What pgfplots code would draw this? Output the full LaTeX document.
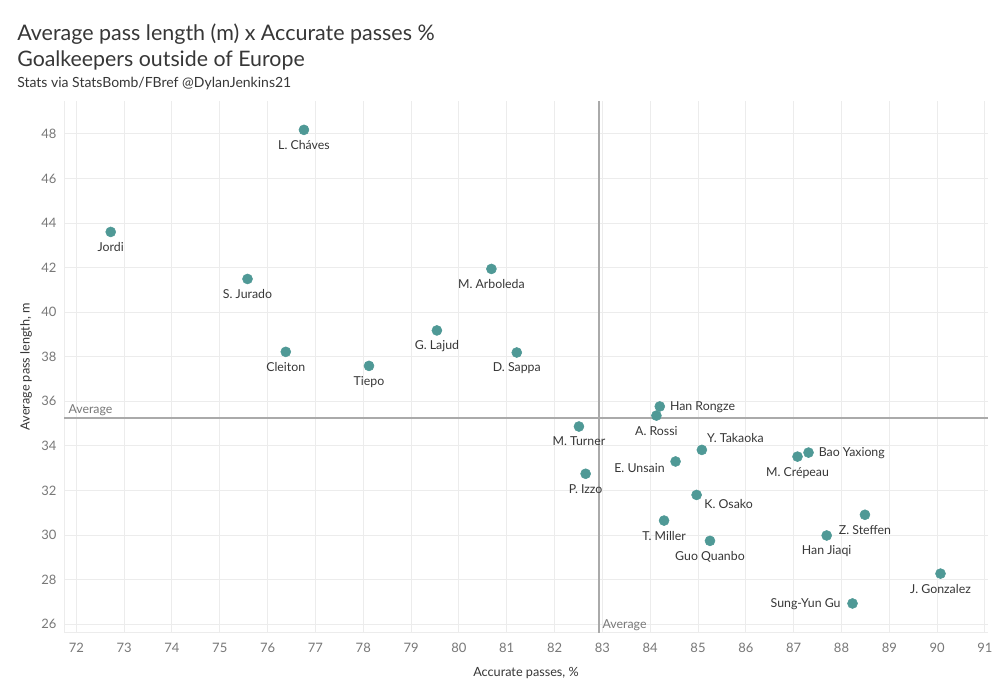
\documentclass[border=0pt]{standalone}
\usepackage{fontspec}
\setmainfont{Lato}
\usepackage{pgfplots}
\usepackage{pgfplotstable}
\pgfplotsset{compat=1.18}
\definecolor{dot}{RGB}{79,153,150}
\definecolor{gridc}{RGB}{236,236,236}
\definecolor{avg}{RGB}{170,170,170}
\definecolor{txt}{RGB}{55,55,55}
\definecolor{tickc}{RGB}{120,120,120}

% labels below the dot
\pgfplotstableread{
x y label
76.76 48.18 {L. Cháves}
72.72 43.60 {Jordi}
75.58 41.49 {S. Jurado}
80.68 41.94 {M. Arboleda}
79.54 39.18 {G. Lajud}
76.38 38.22 {Cleiton}
78.12 37.59 {Tiepo}
81.21 38.19 {D. Sappa}
84.13 35.36 {A. Rossi}
82.51 34.87 {M. Turner}
82.65 32.75 {P. Izzo}
87.08 33.52 {M. Crépeau}
84.29 30.65 {T. Miller}
85.25 29.74 {Guo Quanbo}
88.49 30.91 {Z. Steffen}
87.69 29.98 {Han Jiaqi}
90.07 28.27 {J. Gonzalez}
}\gkbelow
% labels to the right, level
\pgfplotstableread{
x y label
84.20 35.77 {Han Rongze}
87.31 33.70 {Bao Yaxiong}
}\gkright
\pgfplotstableread{
x y label
85.08 33.82 {Y. Takaoka}
}\gkupright
\pgfplotstableread{
x y label
84.97 31.80 {K. Osako}
}\gkdownright
\pgfplotstableread{
x y label
84.53 33.30 {E. Unsain}
}\gkdownleft
\pgfplotstableread{
x y label
88.23 26.93 {Sung-Yun Gu}
}\gkleft

\pgfplotsset{
  gk/.style={only marks, mark=*, mark size=3.75pt,
    mark options={fill=dot, draw=dot},
    point meta=explicit symbolic, nodes near coords},
  lab/.style={every node near coord/.append style={inner sep=0pt, text=txt, font=\fontsize{9.25}{11}\selectfont, #1}},
}

\begin{document}
\begin{tikzpicture}
\path[use as bounding box, fill=white] (0,0) rectangle (750pt,525pt);
\node[anchor=base west, text=txt, font=\fontsize{16.1}{19}\selectfont, inner sep=0pt] at (12.75pt,494.5pt) {Average pass length (m) x Accurate passes \%};
\node[anchor=base west, text=txt, font=\fontsize{16}{19}\selectfont, inner sep=0pt] at (12.75pt,475pt) {Goalkeepers outside of Europe};
\node[anchor=base west, text=txt, font=\fontsize{10.5}{12}\selectfont, inner sep=0pt] at (12.75pt,459.5pt) {Stats via StatsBomb/FBref @DylanJenkins21};
\begin{axis}[
  at={(48pt,50.5pt)}, anchor=south west,
  scale only axis, width=693pt, height=399pt,
  xmin=71.743, xmax=91.063, ymin=25.62, ymax=49.49,
  xtick={72,73,...,91}, ytick={26,28,...,48},
  axis x line*=bottom, axis y line*=left,
  axis line style={gridc, line width=0.75pt, -},
  grid=major, grid style={gridc, line width=0.75pt},
  major tick length=0pt,
  tick label style={font=\fontsize{9.75}{11}\selectfont, text=tickc},
  /pgf/number format/assume math mode=true,
  xticklabel style={anchor=base, yshift=-15pt},
  yticklabel style={anchor=east, inner sep=0pt, xshift=-5.5pt},
  xlabel={Accurate passes, \%}, ylabel={Average pass length, m},
  label style={font=\fontsize{9.5}{11}\selectfont, text=txt},
  xlabel style={at={(axis description cs:0.5,-0.0815)}, anchor=base},
  ylabel style={at={(axis description cs:-0.0295,0.5)}, anchor=south},
  clip=false,
]
\addplot[avg, line width=1.5pt] coordinates {(71.743,35.23) (91.063,35.23)};
\addplot[avg, line width=1.5pt] coordinates {(82.93,25.62) (82.93,49.49)};
\node[anchor=base west, xshift=3.2pt, yshift=3.9pt, inner sep=0pt, text=tickc, font=\fontsize{9.25}{11}\selectfont] at (axis cs:71.743,35.23) {Average};
\node[anchor=base west, xshift=2.5pt, yshift=3.3pt, inner sep=0pt, text=tickc, font=\fontsize{9.25}{11}\selectfont] at (axis cs:82.93,25.62) {Average};
\addplot[gk, lab={anchor=base, yshift=-14.6pt}] table[x=x, y=y, meta=label] {\gkbelow};
\addplot[gk, lab={anchor=base west, xshift=7.5pt, yshift=-3pt}] table[x=x, y=y, meta=label] {\gkright};
\addplot[gk, lab={anchor=base west, xshift=3.75pt, yshift=5.5pt}] table[x=x, y=y, meta=label] {\gkupright};
\addplot[gk, lab={anchor=base west, xshift=5.7pt, yshift=-10.5pt}] table[x=x, y=y, meta=label] {\gkdownright};
\addplot[gk, lab={anchor=base east, xshift=-8pt, yshift=-8pt}] table[x=x, y=y, meta=label] {\gkdownleft};
\addplot[gk, lab={anchor=base east, xshift=-8.75pt, yshift=-2.7pt}] table[x=x, y=y, meta=label] {\gkleft};
\end{axis}
\end{tikzpicture}
\end{document}
